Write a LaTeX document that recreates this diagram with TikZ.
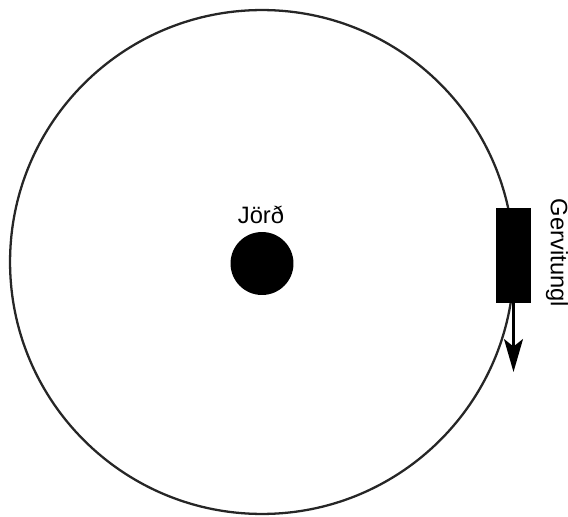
\documentclass[tikz,border=0pt]{standalone}
\usepackage{fontspec}
\setmainfont{Liberation Sans}
\usepackage{tikz}
\usetikzlibrary{positioning,arrows.meta}
\tikzset{
  orbit/.style ={circle, draw=black!85, line width=1.3pt, minimum size=10.08cm, inner sep=0pt},
  planet/.style={circle, fill=black, minimum size=1.26cm, inner sep=0pt},
  sat/.style   ={rectangle, fill=black, minimum width=0.7cm, minimum height=1.9cm, inner sep=0pt},
  lab/.style   ={inner sep=0pt, font=\fontsize{13.5pt}{15pt}\selectfont},
  move/.style  ={-{Stealth[length=0.66cm, width=0.38cm, inset=0.15cm]}, line width=1.2pt},
}
\begin{document}
\begin{tikzpicture}[x=0.02cm, y=-0.02cm]
        \useasboundingbox (0,0) rectangle (568,517);
        \node[orbit]  (O) at (262,262)   {};
        \node[planet] (E) at (262,263.5) {};
        \node[lab]    (EL) at (261,215)  {Jörð};
        \node[sat]    (S) at (513.5,255.5) {};
        \coordinate   (T) at (513.5,372);
        \node[lab, rotate=-90] (SL) at (557,253) {Gervitungl};
        \draw[move] (S.south) -- (T);
      \end{tikzpicture}
\end{document}
